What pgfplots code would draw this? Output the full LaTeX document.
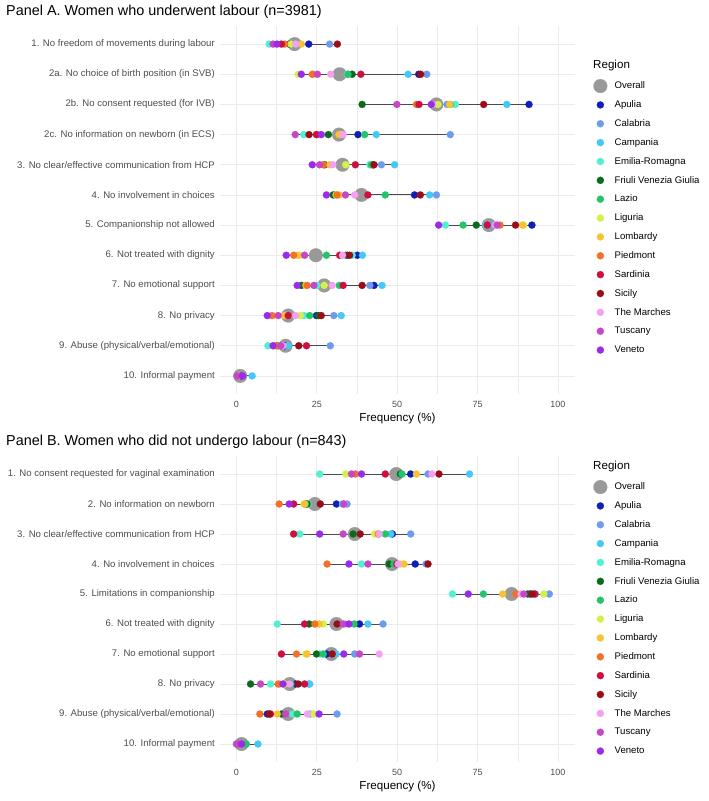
\documentclass[border=0pt]{standalone}
\usepackage{pgfplots}
\pgfplotsset{compat=1.18}
\usepackage{pgfplotstable}
\usepackage{fontspec}
\setmainfont{Liberation Sans}

\definecolor{cOv}{HTML}{999999}
\definecolor{cApu}{HTML}{0F1FB8}
\definecolor{cCal}{HTML}{6F9BEF}
\definecolor{cCam}{HTML}{45C8F5}
\definecolor{cEmi}{HTML}{50F0D0}
\definecolor{cFri}{HTML}{0B6B1A}
\definecolor{cLaz}{HTML}{25C46A}
\definecolor{cLig}{HTML}{D4F04A}
\definecolor{cLom}{HTML}{F9C232}
\definecolor{cPie}{HTML}{F2702A}
\definecolor{cSar}{HTML}{CC1040}
\definecolor{cSic}{HTML}{9A0E1A}
\definecolor{cMar}{HTML}{F5A0F0}
\definecolor{cTus}{HTML}{C646C6}
\definecolor{cVen}{HTML}{9B2BEA}
\definecolor{gridc}{HTML}{EBEBEB}
\definecolor{axtext}{HTML}{4D4D4D}
\definecolor{segc}{HTML}{4A4A4A}

\newcommand{\fs}[1]{\fontsize{#1}{#1}\selectfont}

% Panel A: row Ov Apu Cal Cam Emi Fri Laz Lig Lom Pie Sar Sic Mar Tus Ven lo hi
\pgfplotstableread{
row Ov Apu Cal Cam Emi Fri Laz Lig Lom Pie Sar Sic Mar Tus Ven lo hi
1 18.1 22.5 29.0 19.0 10.2 16.4 17.5 17.0 20.2 15.0 14.0 31.4 18.4 11.4 12.6 10.2 31.4
2 32.1 56.7 59.2 53.4 34.5 36.0 34.7 19.2 24.0 23.6 38.7 57.3 29.3 25.2 20.2 19.2 59.2
3 62.2 91.0 65.5 84.1 68.1 39.1 66.5 62.7 66.3 56.0 56.8 76.9 61.0 49.9 60.6 39.1 91.0
4 31.9 37.8 66.5 43.5 20.9 28.6 39.9 32.5 31.9 25.0 24.9 22.6 33.2 18.3 26.4 18.3 66.5
5 33.0 42.5 45.1 49.2 41.5 27.5 42.0 34.0 29.0 27.0 37.0 42.8 30.0 25.9 23.6 23.6 49.2
6 38.9 55.4 62.2 60.1 30.5 30.1 46.3 31.0 32.0 31.3 40.9 57.2 36.8 33.9 28.0 28.0 62.2
7 78.5 91.9 79.0 77.5 65.0 74.6 70.5 89.3 89.0 82.0 78.0 86.8 80.5 81.1 62.9 62.9 91.9
8 24.7 37.6 34.0 39.2 36.0 34.5 28.0 19.7 19.0 17.8 32.1 35.2 33.0 21.2 15.5 15.5 39.2
9 27.3 42.8 41.5 45.3 25.0 20.2 32.0 27.3 21.6 22.0 33.2 39.1 29.8 24.1 18.9 18.9 45.3
10 16.1 24.9 30.3 32.6 21.0 25.5 22.8 19.9 15.0 11.1 16.1 26.4 18.4 13.0 9.6 9.6 32.6
11 15.3 15.0 29.2 16.1 9.8 13.0 14.0 12.0 13.5 12.5 21.8 19.4 14.5 13.8 11.4 9.8 29.2
12 1.2 1.0 1.5 4.9 0.8 0.5 1.2 0.6 1.0 0.7 1.3 1.1 0.9 0.2 1.9 0.2 4.9
}\tabA

% Panel B
\pgfplotstableread{
row Ov Apu Cal Cam Emi Fri Laz Lig Lom Pie Sar Sic Mar Tus Ven lo hi
1 49.7 54.2 59.6 72.5 25.9 51.0 51.5 34.0 56.0 37.0 46.3 63.0 60.8 35.8 38.9 25.9 72.5
2 24.4 31.1 34.4 33.0 22.3 22.0 21.5 21.0 21.2 13.3 17.8 26.1 33.5 33.4 16.4 13.3 34.4
3 36.8 48.5 54.2 48.0 19.7 36.3 46.3 43.0 44.0 44.2 17.8 38.5 44.4 33.2 25.9 17.8 54.2
4 48.4 55.6 59.0 50.0 38.9 47.5 49.0 51.0 52.1 28.2 49.9 59.6 50.3 40.9 35.0 28.2 59.6
5 85.6 91.3 97.3 93.0 67.2 90.5 76.8 95.6 82.8 86.9 92.8 92.0 88.5 89.4 72.1 67.2 97.3
6 31.1 38.3 45.6 40.9 12.7 22.6 36.6 27.0 25.7 24.4 21.2 31.3 34.0 33.2 35.0 12.7 45.6
7 29.5 28.0 36.8 31.0 26.0 24.9 27.0 21.6 22.0 18.7 14.0 29.8 44.4 38.3 33.4 14.0 44.4
8 16.6 18.4 22.5 22.8 10.6 4.4 17.0 15.0 13.5 13.0 21.2 19.2 16.6 7.5 14.5 4.4 22.8
9 16.1 9.6 31.3 23.0 17.5 14.0 18.9 24.0 12.7 7.3 10.6 10.2 22.1 15.3 25.7 7.3 31.3
10 1.6 1.0 1.2 6.7 1.5 0.8 3.1 1.0 1.3 0.9 1.4 1.1 1.2 0.0 1.6 0.0 6.7
}\tabB

\pgfplotsset{
  reg/.style={only marks, mark=*, color=#1, mark size=3.6pt,
    mark options={solid, draw=#1, fill=#1, line width=0.1pt}},
  dotpanel/.style={
    scale only axis, width=355pt,
    xmin=-5.1, xmax=105.3, y dir=reverse, ymin=0.4,
    xtick={0,25,50,75,100}, xticklabels={0,25,50,75,100},
    minor xtick={12.5,37.5,62.5,87.5},
    grid=both,
    major grid style={draw=gridc, line width=0.7pt},
    minor grid style={draw=gridc, line width=0.45pt},
    axis line style={draw=none},
    major tick length=0pt, minor tick length=0pt,
    tick style={draw=none},
    /pgf/number format/assume math mode=true,
    xticklabel style={font=\fs{9}, text=axtext, anchor=center, yshift=-10pt},
    yticklabel style={font=\fs{9.6}, text=axtext, anchor=east, inner sep=0pt, xshift=-5pt},
    xlabel={Frequency (\%)},
    xlabel style={font=\fs{11.6}, at={(axis description cs:0.5,0)}, anchor=center, yshift=-24pt},
    clip=false,
    legend entries={Overall,Apulia,Calabria,Campania,Emilia-Romagna,Friuli Venezia Giulia,Lazio,Liguria,Lombardy,Piedmont,Sardinia,Sicily,The Marches,Tuscany,Veneto},
    legend style={draw=none, fill=none, inner sep=0pt, outer sep=0pt,
      font=\fs{9.6}, row sep=0pt, column sep=7.4pt,
      nodes={inner sep=0pt, minimum height=18.86pt}},
    legend cell align=left,
  }
}

\newcommand{\drawpanel}[1]{%
  \addplot[forget plot, only marks, mark=none,
    error bars/.cd, x dir=plus, x explicit, error mark=none,
    error bar style={draw=segc, line width=0.9pt}]
    table[x=lo, y=row, x error expr=\thisrow{hi}-\thisrow{lo}] {#1};
  \addplot[only marks, mark=*, color=cOv, mark size=6.9pt,
    mark options={solid, draw=cOv, fill=cOv, line width=0.1pt}] table[x=Ov, y=row] {#1};
  \addplot[reg=cApu] table[x=Apu, y=row] {#1};
  \addplot[reg=cCal] table[x=Cal, y=row] {#1};
  \addplot[reg=cCam] table[x=Cam, y=row] {#1};
  \addplot[reg=cEmi] table[x=Emi, y=row] {#1};
  \addplot[reg=cFri] table[x=Fri, y=row] {#1};
  \addplot[reg=cLaz] table[x=Laz, y=row] {#1};
  \addplot[reg=cLig] table[x=Lig, y=row] {#1};
  \addplot[reg=cLom] table[x=Lom, y=row] {#1};
  \addplot[reg=cPie] table[x=Pie, y=row] {#1};
  \addplot[reg=cSar] table[x=Sar, y=row] {#1};
  \addplot[reg=cSic] table[x=Sic, y=row] {#1};
  \addplot[reg=cMar] table[x=Mar, y=row] {#1};
  \addplot[reg=cTus] table[x=Tus, y=row] {#1};
  \addplot[reg=cVen] table[x=Ven, y=row] {#1};
}

\begin{document}
\begin{tikzpicture}
\useasboundingbox (0pt,0pt) rectangle (709pt,-801pt);

\node[anchor=west, inner sep=0pt, font=\fs{14.4}] at (6pt,-12pt) {Panel A. Women who underwent labour (n=3981)};

\begin{axis}[dotpanel,
  at={(220pt,-26pt)}, anchor=north west, height=368pt,
  ymax=12.6, ytick={1,...,12},
  yticklabels={1. No freedom of movements during labour,
    2a. No choice of birth position (in SVB),
    2b. No consent requested (for IVB),
    2c. No information on newborn (in ECS),
    3. No clear/effective communication from HCP,
    4. No involvement in choices,
    5. Companionship not allowed,
    6. Not treated with dignity,
    7. No emotional support,
    8. No privacy,
    9. Abuse (physical/verbal/emotional),
    10. Informal payment},
  legend style={at={(axis description cs:1.052,0.8625)}, anchor=north west},
]
\drawpanel{\tabA}
\end{axis}
\node[anchor=west, inner sep=0pt, font=\fs{11.6}] at (593pt,-65pt) {Region};

\node[anchor=west, inner sep=0pt, font=\fs{14.4}] at (6pt,-442pt) {Panel B. Women who did not undergo labour (n=843)};

\begin{axis}[dotpanel,
  at={(220pt,-456pt)}, anchor=north west, height=306pt,
  ymax=10.6, ytick={1,...,10},
  yticklabels={1. No consent requested for vaginal examination,
    2. No information on newborn,
    3. No clear/effective communication from HCP,
    4. No involvement in choices,
    5. Limitations in companionship,
    6. Not treated with dignity,
    7. No emotional support,
    8. No privacy,
    9. Abuse (physical/verbal/emotional),
    10. Informal payment},
  legend style={at={(axis description cs:1.052,0.9294)}, anchor=north west},
]
\drawpanel{\tabB}
\end{axis}
\node[anchor=west, inner sep=0pt, font=\fs{11.6}] at (593pt,-466pt) {Region};
\end{tikzpicture}
\end{document}
